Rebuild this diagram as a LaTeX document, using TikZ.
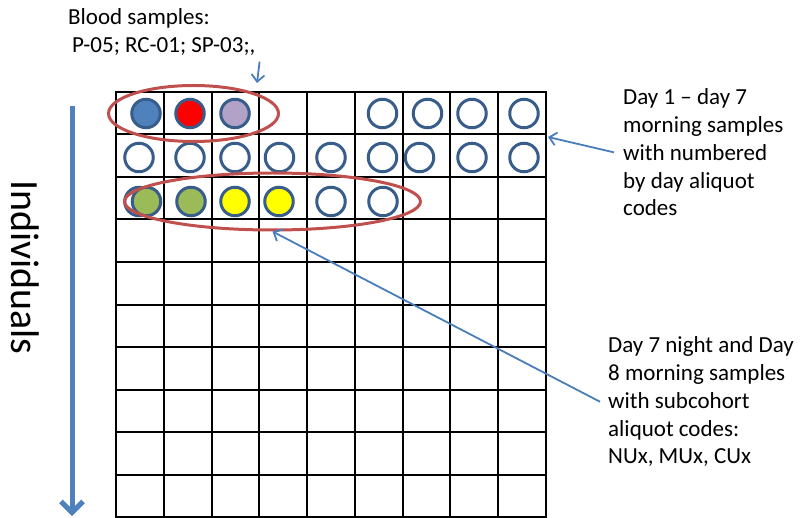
\documentclass[tikz,border=0pt]{standalone}
\usepackage{fontspec}
\setmainfont{Carlito}
\usetikzlibrary{arrows.meta, shapes.geometric}

\definecolor{ringblue}{HTML}{385D8A}
\definecolor{fillblue}{HTML}{4F81BD}
\definecolor{fillred}{HTML}{FF0000}
\definecolor{filllilac}{HTML}{B3A2C7}
\definecolor{fillgreen}{HTML}{9BBB59}
\definecolor{fillyellow}{HTML}{FFFF00}
\definecolor{loopred}{HTML}{C0504D}
\definecolor{pointblue}{HTML}{4A7EBB}

\begin{document}
\begin{tikzpicture}[x=1pt,y=-1pt,inner sep=0pt,>={Straight Barb[length=7pt,width=13pt]},
  ring/.style={draw=ringblue,circle,line width=3pt,minimum size=28.5pt,fill=white},
  loop/.style={draw=loopred,ellipse,line width=3pt},
  note/.style={align=left,anchor=north west,font=\fontsize{23}{27.8}\selectfont},
  pointer/.style={->,draw=pointblue,line width=1.8pt}]
\useasboundingbox (0,0) rectangle (802,518);
\foreach \i in {0,...,9} \draw[line width=2pt,line cap=rect] (116+47.78*\i,92) -- (116+47.78*\i,517);
\foreach \j in {0,...,10} \draw[line width=2pt,line cap=rect] (116,92+42.5*\j) -- (546,92+42.5*\j);
\draw node [ring,fill=fillblue]   (B1) at (146,113.5) {};
\draw node [ring,fill=fillred]    (B2) at (190,113.5) {};
\draw node [ring,fill=filllilac]  (B3) at (235,113.5) {};
\foreach \x [count=\k] in {382.5,427.5,472,524}
  \draw node [ring] (M1-\k) at (\x,113.5) {};
\foreach \x [count=\k] in {139,190,235,279.5,331,382.5,419.5,472,524}
  \draw node [ring] (M2-\k) at (\x,157.5) {};
\draw node [ring]                 (N0) at (139,201.5) {};
\draw node [ring,fill=fillgreen]  (N1) at (146.5,201.5) {};
\draw node [ring,fill=fillgreen]  (N2) at (191,201.5) {};
\draw node [ring,fill=fillyellow] (N3) at (235,201.5) {};
\draw node [ring,fill=fillyellow] (N4) at (279,201.5) {};
\draw node [ring]                 (N5) at (331,201.5) {};
\draw node [ring]                 (N6) at (383,201.5) {};
\draw node [loop,minimum width=170pt,minimum height=56pt] (bloodloop) at (193.5,113.5) {};
\draw node [loop,minimum width=296pt,minimum height=57pt] (subloop) at (272.5,201.5) {};
\node [note] (bloodtxt) at (68,8.5) {Blood samples:\\\hspace*{4pt}P-05; RC-01; SP-03;,};
\node [note] (morningtxt) at (623,88.5) {Day 1 -- day 7\\morning samples\\with numbered\\by day aliquot\\codes};
\node [note] (nighttxt) at (608,336.5) {Day 7 night and Day\\8 morning samples\\with subcohort\\aliquot codes:\\NUx, MUx, CUx};
\node [font=\fontsize{40}{48}\selectfont,rotate=-90,anchor=base west] (indivtxt) at (12,180) {Individuals};
\coordinate (bloodtip) at (257,83);
\coordinate (gridedge) at (548,137);
\coordinate (indivtop) at (72,106);
\coordinate (indivend) at (72,516);
\draw [pointer] ([xshift=4pt,yshift=-6pt]bloodtxt.south east) -- (bloodtip);
\draw [pointer] ([xshift=-9pt]morningtxt.west) -- (gridedge);
\draw [pointer] ([xshift=-8pt]nighttxt.west) -- (subloop.south);
\draw [->,draw=fillblue,line width=5pt,>={Straight Barb[length=11pt,width=22pt]}] (indivtop) -- (indivend);
\end{tikzpicture}
\end{document}
